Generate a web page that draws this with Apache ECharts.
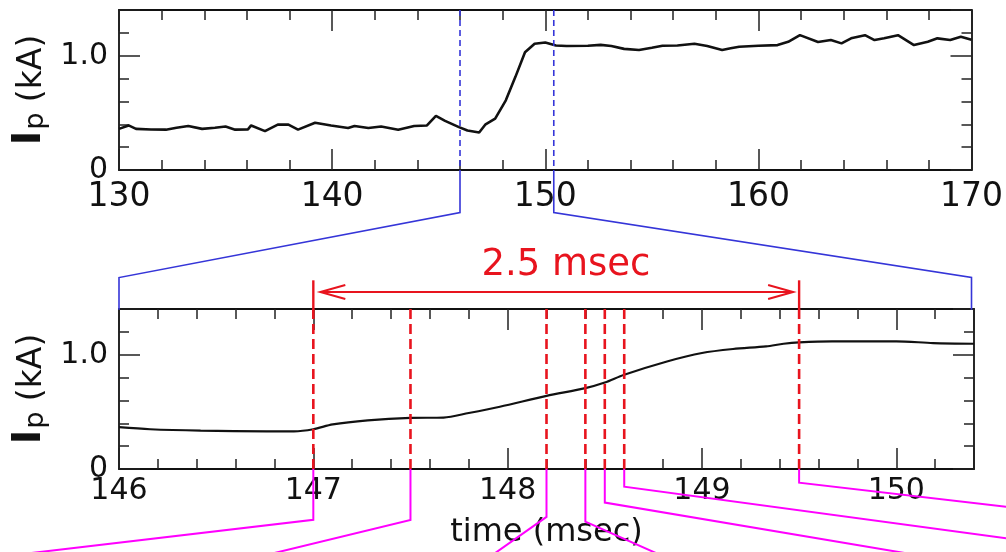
<!DOCTYPE html>
<html><head><meta charset="utf-8">
<script src="https://cdn.jsdelivr.net/npm/echarts@6/dist/echarts.min.js"></script>
<style>html,body{margin:0;padding:0;background:#fff}#c{width:1006px;height:552px}</style>
</head><body><div id="c"></div>
<script>
// ---- data ----
const overviewTime = [130.0,130.45,130.8,131.5,132.2,132.7,133.25,133.9,134.5,135.0,135.45,136.05,136.2,136.85,137.45,137.95,138.4,139.2,139.95,140.75,141.05,141.7,142.3,143.1,143.85,144.45,144.87,145.3,145.95,146.35,146.9,147.2,147.65,148.15,148.6,149.05,149.5,150.0,150.5,151.0,152.0,152.6,153.1,153.7,154.4,155.0,155.5,156.2,157.0,157.6,158.3,158.7,159.1,160.0,160.9,161.4,161.95,162.8,163.4,163.9,164.35,165.0,165.45,165.9,166.55,167.3,167.95,168.4,169.0,169.5,170.0];
const overviewCurrent = [0.36,0.39,0.36,0.355,0.353,0.37,0.385,0.36,0.37,0.38,0.353,0.355,0.39,0.34,0.397,0.397,0.353,0.414,0.39,0.367,0.385,0.367,0.38,0.353,0.385,0.39,0.473,0.43,0.375,0.345,0.328,0.40,0.45,0.61,0.815,1.03,1.105,1.115,1.09,1.085,1.087,1.095,1.085,1.06,1.05,1.07,1.087,1.09,1.105,1.085,1.05,1.065,1.078,1.087,1.093,1.122,1.18,1.12,1.137,1.108,1.152,1.18,1.137,1.152,1.18,1.093,1.122,1.152,1.137,1.165,1.14];
const zoomTime = [146.0,146.16,146.42,146.76,146.9,147.0,147.1,147.28,147.5,147.67,147.8,147.96,148.2,148.4,148.5,148.6,148.82,149.0,149.16,149.33,149.42,149.5,149.67,150.0,150.19,150.4];
const zoomCurrent = [0.366,0.348,0.336,0.33,0.33,0.348,0.39,0.425,0.447,0.45,0.49,0.545,0.64,0.708,0.757,0.825,0.941,1.015,1.05,1.073,1.096,1.108,1.117,1.117,1.102,1.096];
const overviewRange = [130, 170];
const zoomRange = [146, 150.4];
const currentRange = [0, 1.4];
const windowTimes = [146, 150.4];
const windowKnee = -0.373, windowCorner = -0.941, windowFoot = -1.222;
const markTimes = [147, 147.5, 148.2, 148.4, 148.5, 148.6, 149.5];
const markKnee = [-0.445, -0.445, -0.419, -0.46, -0.294, -0.155, -0.12];
const markEndTime = [145.249, 146.655, 147.886, 148.842, 150.253, 150.634, 150.634];
const markEndCurrent = [-0.795, -0.795, -0.795, -0.795, -0.795, -0.622, -0.343];
const spanTimes = [147, 149.5];
const spanArrowLevel = 1.548, spanTopLevel = 1.651;
const spanLabel = '2.5 msec';
const spanLabelPos = [148.3, 1.78];
const yTickText = {0: '0', 1: '1.0'};
const xName = 'time (msec)';

// ---- styles ----
const FONT = 'DejaVu Sans';
const INK = '#111';
const BLUE = '#3535d8';
const RED = '#e8141e';
const MAG = '#ff00ff';

function axisCommon() {
  return {
    axisLine: {show: true, onZero: false, lineStyle: {color: INK, width: 1.8}},
    axisTick: {show: true, inside: true, length: 21, lineStyle: {color: '#222', width: 1.5}},
    minorTick: {show: true, splitNumber: 5, length: 10, lineStyle: {color: '#222', width: 1.5}},
    splitLine: {show: false}, minorSplitLine: {show: false}
  };
}
function xPair(grid, range, fs, margin, name) {
  const base = Object.assign(axisCommon(), {type: 'value', gridIndex: grid, min: range[0], max: range[1], interval: 1});
  const bottom = Object.assign({}, base, {position: 'bottom',
    interval: range[1] - range[0] > 10 ? 10 : 1,
    axisLabel: {show: true, fontFamily: FONT, fontSize: fs, color: INK, margin: margin, showMaxLabel: range[1] % 1 === 0}});
  if (name) Object.assign(bottom, {name: name, nameLocation: 'middle', nameGap: 48,
    nameTextStyle: {fontFamily: FONT, fontSize: 32, color: INK}});
  const top = Object.assign({}, base, {position: 'top', interval: bottom.interval, axisLabel: {show: false}});
  return [bottom, top];
}
function yPair(grid) {
  const base = Object.assign(axisCommon(), {type: 'value', gridIndex: grid, min: currentRange[0], max: currentRange[1], interval: 1});
  const left = Object.assign({}, base, {position: 'left',
    axisLabel: {show: true, fontFamily: FONT, fontSize: 30, color: INK, margin: 11, showMaxLabel: false,
      formatter: v => yTickText[v] !== undefined ? yTickText[v] : ''},
    name: '{i|I}{p|p}{u| (kA)}', nameLocation: 'middle', nameRotate: 90, nameGap: 62,
    nameTextStyle: {color: INK, rich: {
      i: {fontFamily: FONT, fontSize: 39, fontWeight: 'bold', color: INK, verticalAlign: 'bottom'},
      p: {fontFamily: FONT, fontSize: 27, color: INK, verticalAlign: 'bottom', padding: [0, 0, 0, 1]},
      u: {fontFamily: FONT, fontSize: 33, color: INK, verticalAlign: 'bottom'}
    }}});
  const right = Object.assign({}, base, {position: 'right', axisLabel: {show: false}});
  return [left, right];
}

const xTop = xPair(0, overviewRange, 33, 11);
const xBot = xPair(1, zoomRange, 30, 7, xName);
const yTop = yPair(0), yBot = yPair(1);

const option = {
  animation: false,
  backgroundColor: '#fff',
  grid: [
    {left: 119, right: 32, top: 10, height: 160},
    {left: 119, right: 32, top: 309, height: 160}
  ],
  xAxis: [xTop[0], xTop[1], xBot[0], xBot[1]],
  yAxis: [yTop[0], yTop[1], yBot[0], yBot[1]],
  series: [
    {type: 'line', xAxisIndex: 0, yAxisIndex: 0, showSymbol: false, z: 2,
      data: overviewTime.map((t, i) => [t, overviewCurrent[i]]),
      lineStyle: {color: INK, width: 2.6}},
    {type: 'line', xAxisIndex: 2, yAxisIndex: 2, showSymbol: false, smooth: 0.3, z: 2,
      data: zoomTime.map((t, i) => [t, zoomCurrent[i]]),
      lineStyle: {color: INK, width: 2.2}},
    // window markers in the overview and connectors to the zoomed panel
    {type: 'custom', xAxisIndex: 0, yAxisIndex: 0, z: 5, clip: false,
      data: windowTimes.map((t, i) => [t, i]),
      renderItem: function (params, api) {
        const t = api.value(0), side = api.value(1);
        const a = api.coord([t, currentRange[1]]), b = api.coord([t, currentRange[0]]);
        const k = api.coord([t, windowKnee]);
        const cx = side === 0 ? overviewRange[0] : overviewRange[1];
        const c1 = api.coord([cx, windowCorner]), c2 = api.coord([cx, windowFoot]);
        return {type: 'group', children: [
          {type: 'line', shape: {x1: a[0], y1: a[1], x2: b[0], y2: b[1]},
            style: {stroke: BLUE, lineWidth: 1.6, lineDash: [6, 4]}},
          {type: 'polyline', shape: {points: [b, k, c1, c2]},
            style: {stroke: BLUE, lineWidth: 1.6, fill: null}}
        ]};
      }},
    // red event markers and magenta connectors
    {type: 'custom', xAxisIndex: 2, yAxisIndex: 2, z: 5, clip: false,
      data: markTimes.map((t, i) => [t, markKnee[i], markEndTime[i], markEndCurrent[i]]),
      renderItem: function (params, api) {
        const t = api.value(0);
        const a = api.coord([t, currentRange[1]]), b = api.coord([t, currentRange[0]]);
        const k = api.coord([t, api.value(1)]);
        const e = api.coord([api.value(2), api.value(3)]);
        return {type: 'group', children: [
          {type: 'polyline', shape: {points: [b, k, e]}, style: {stroke: MAG, lineWidth: 2, fill: null}},
          {type: 'line', shape: {x1: a[0], y1: a[1], x2: b[0], y2: b[1]},
            style: {stroke: RED, lineWidth: 2.6, lineDash: [10, 5]}}
        ]};
      }},
    // span arrow
    {type: 'custom', xAxisIndex: 2, yAxisIndex: 2, z: 6, clip: false,
      data: [[spanTimes[0], spanTimes[1]]],
      renderItem: function (params, api) {
        const t0 = api.value(0), t1 = api.value(1);
        const p0b = api.coord([t0, currentRange[1]]), p0t = api.coord([t0, spanTopLevel]);
        const p1b = api.coord([t1, currentRange[1]]), p1t = api.coord([t1, spanTopLevel]);
        const l = api.coord([t0, spanArrowLevel]), r = api.coord([t1, spanArrowLevel]);
        const lx = l[0] + 7, rx = r[0] - 6, y = l[1];
        const tp = api.coord(spanLabelPos);
        const st = {stroke: RED, lineWidth: 2, fill: null};
        return {type: 'group', children: [
          {type: 'line', shape: {x1: p0b[0], y1: p0b[1], x2: p0t[0], y2: p0t[1]}, style: {stroke: RED, lineWidth: 2.4}},
          {type: 'line', shape: {x1: p1b[0], y1: p1b[1], x2: p1t[0], y2: p1t[1]}, style: {stroke: RED, lineWidth: 2.4}},
          {type: 'line', shape: {x1: lx, y1: y, x2: rx, y2: y}, style: st},
          {type: 'polyline', shape: {points: [[lx + 25, y - 7], [lx, y], [lx + 25, y + 7]]}, style: st},
          {type: 'polyline', shape: {points: [[rx - 25, y - 7], [rx, y], [rx - 25, y + 7]]}, style: st},
          {type: 'text', x: tp[0], y: tp[1], style: {text: spanLabel, fill: RED, fontFamily: FONT, fontSize: 37,
            align: 'center', verticalAlign: 'middle'}}
        ]};
      }}
  ]
};
const chart = echarts.init(document.getElementById('c'), null, {renderer: 'canvas'});
chart.setOption(option);
</script></body></html>
